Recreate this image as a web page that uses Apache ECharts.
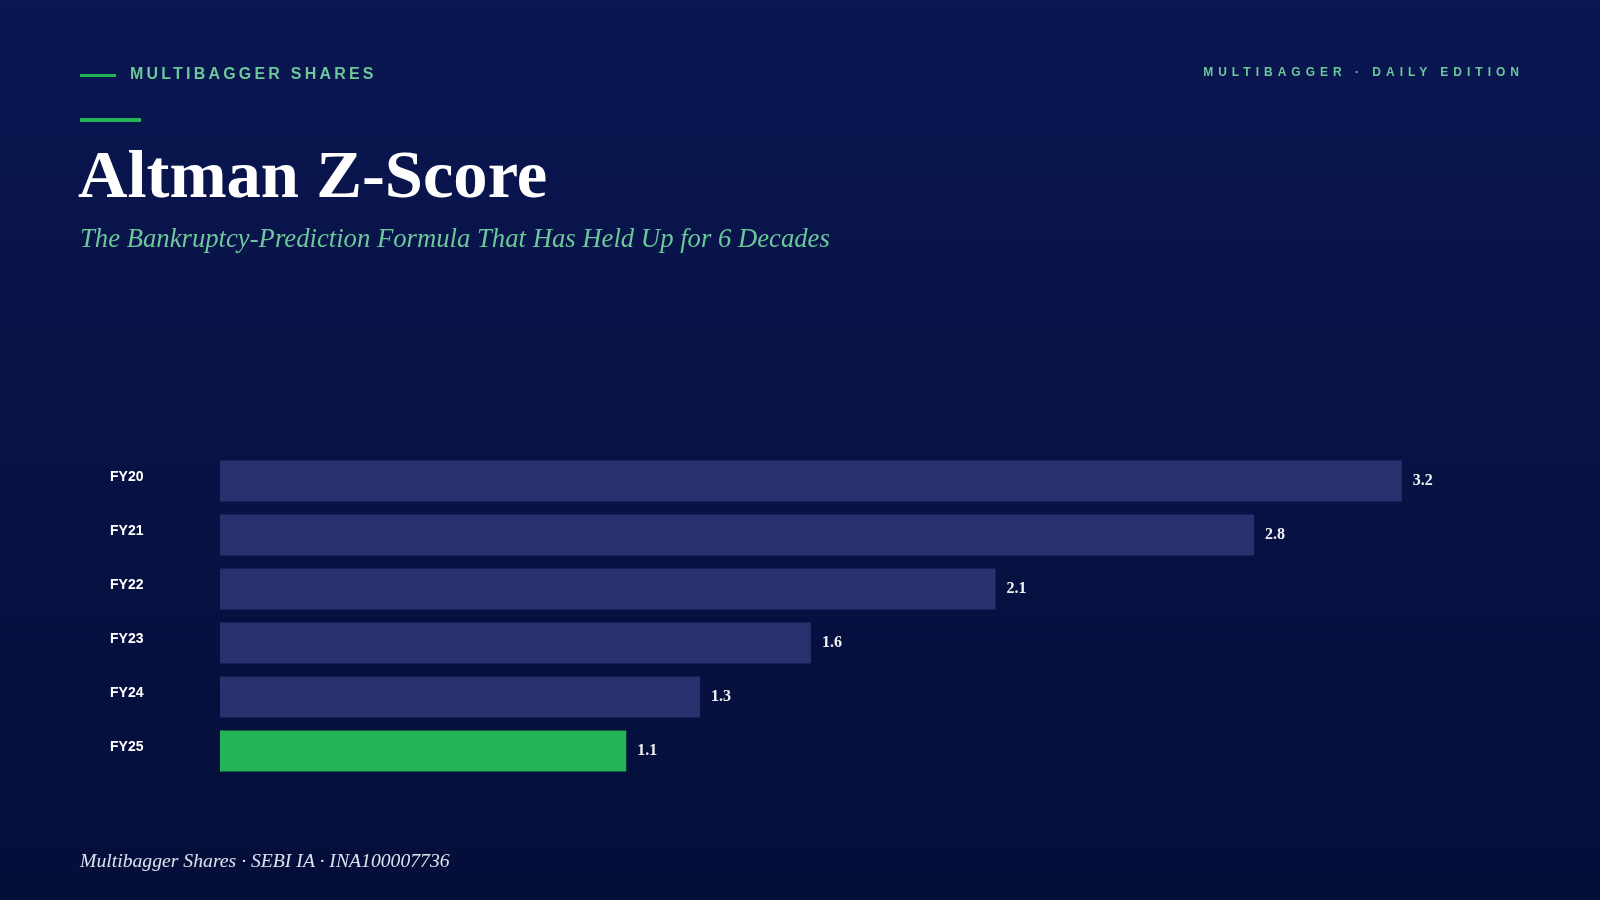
<!DOCTYPE html>
<html>
<head>
<meta charset="utf-8">
<title>Altman Z-Score</title>
<script src="https://cdn.jsdelivr.net/npm/echarts@6/dist/echarts.min.js"></script>
<style>
  html, body {
    margin: 0;
    padding: 0;
    width: 1600px;
    height: 900px;
    overflow: hidden;
  }
  .page {
    position: relative;
    width: 1600px;
    height: 900px;
  }
  #chart {
    position: absolute;
    left: 0;
    top: 0;
    width: 1600px;
    height: 900px;
  }
  .overlay {
    position: absolute;
    pointer-events: none;
  }
  .brand {
    left: 80px;
    top: 65px;
    display: flex;
    align-items: center;
    font-family: "Liberation Sans", Arial, sans-serif;
    font-weight: bold;
    font-size: 16px;
    letter-spacing: 3.2px;
    color: #6cc79b;
  }
  .brand .dash {
    width: 36px;
    height: 3px;
    background: #22b455;
    margin: 2px 14px 0 0;
  }
  .edition {
    right: 76px;
    top: 65px;
    font-family: "Liberation Sans", Arial, sans-serif;
    font-weight: bold;
    font-size: 12px;
    letter-spacing: 5px;
    color: #6cc79b;
  }
  .accent {
    left: 80px;
    top: 118px;
    width: 61px;
    height: 4px;
    background: #22b455;
  }
  .title {
    left: 78px;
    top: 133px;
    font-family: Georgia, "Liberation Serif", serif;
    font-weight: bold;
    font-size: 68.6px;
    color: #ffffff;
    line-height: 1.2;
  }
  .subtitle {
    left: 80px;
    top: 223px;
    font-family: Georgia, "Liberation Serif", serif;
    font-style: italic;
    font-size: 26.7px;
    color: #6cc79b;
  }
  .footer {
    left: 80px;
    top: 849px;
    font-family: Georgia, "Liberation Serif", serif;
    font-style: italic;
    font-size: 19.7px;
    color: #dde4ef;
  }
</style>
</head>
<body>
<div class="page">
  <div id="chart"></div>
  <div class="overlay brand"><span class="dash"></span>MULTIBAGGER SHARES</div>
  <div class="overlay edition">MULTIBAGGER · DAILY EDITION</div>
  <div class="overlay accent"></div>
  <div class="overlay title">Altman Z-Score</div>
  <div class="overlay subtitle">The Bankruptcy-Prediction Formula That Has Held Up for 6 Decades</div>
  <div class="overlay footer">Multibagger Shares · SEBI IA · INA100007736</div>
</div>

<script>
// data
const years = ["FY20", "FY21", "FY22", "FY23", "FY24", "FY25"];
const zScores = [3.2, 2.8, 2.1, 1.6, 1.3, 1.1];
const highlightYear = "FY25";

const navyBar = "#28316d";
const greenBar = "#22b455";

const myChart = echarts.init(document.getElementById("chart"), null, {
  renderer: "canvas",
});

const option = {
  animation: false,
  backgroundColor: {
    type: "linear",
    x: 0,
    y: 0,
    x2: 0,
    y2: 1,
    colorStops: [
      { offset: 0, color: "#0a1651" },
      { offset: 1, color: "#050e39" },
    ],
  },
  grid: {
    left: 220,
    right: 80,
    top: 454,
    bottom: 122,
  },
  xAxis: {
    type: "value",
    min: 0,
    // leave some room on the right for the value labels
    max: (v) => v.max * 1.1,
    show: false,
  },
  yAxis: {
    type: "category",
    data: years,
    inverse: true,
    axisLine: { show: false },
    axisTick: { show: false },
    splitLine: { show: false },
    axisLabel: {
      align: "left",
      margin: 110,
      color: "#ffffff",
      fontFamily: '"Liberation Sans", Arial, sans-serif',
      fontWeight: "bold",
      fontSize: 14,
      // labels sit a little above the bar centre
      verticalAlign: "bottom",
      lineHeight: 8,
    },
  },
  series: [
    {
      type: "bar",
      data: zScores,
      barCategoryGap: "24%",
      itemStyle: {
        color: (p) => (p.name === highlightYear ? greenBar : navyBar),
      },
      label: {
        show: true,
        position: "right",
        distance: 11,
        color: "#f2f2f2",
        fontFamily: 'Georgia, "Liberation Serif", serif',
        fontWeight: "bold",
        fontSize: 16,
        padding: [2, 0, 0, 0],
        formatter: (p) => p.value.toFixed(1),
      },
    },
  ],
};

myChart.setOption(option);
</script>
</body>
</html>
